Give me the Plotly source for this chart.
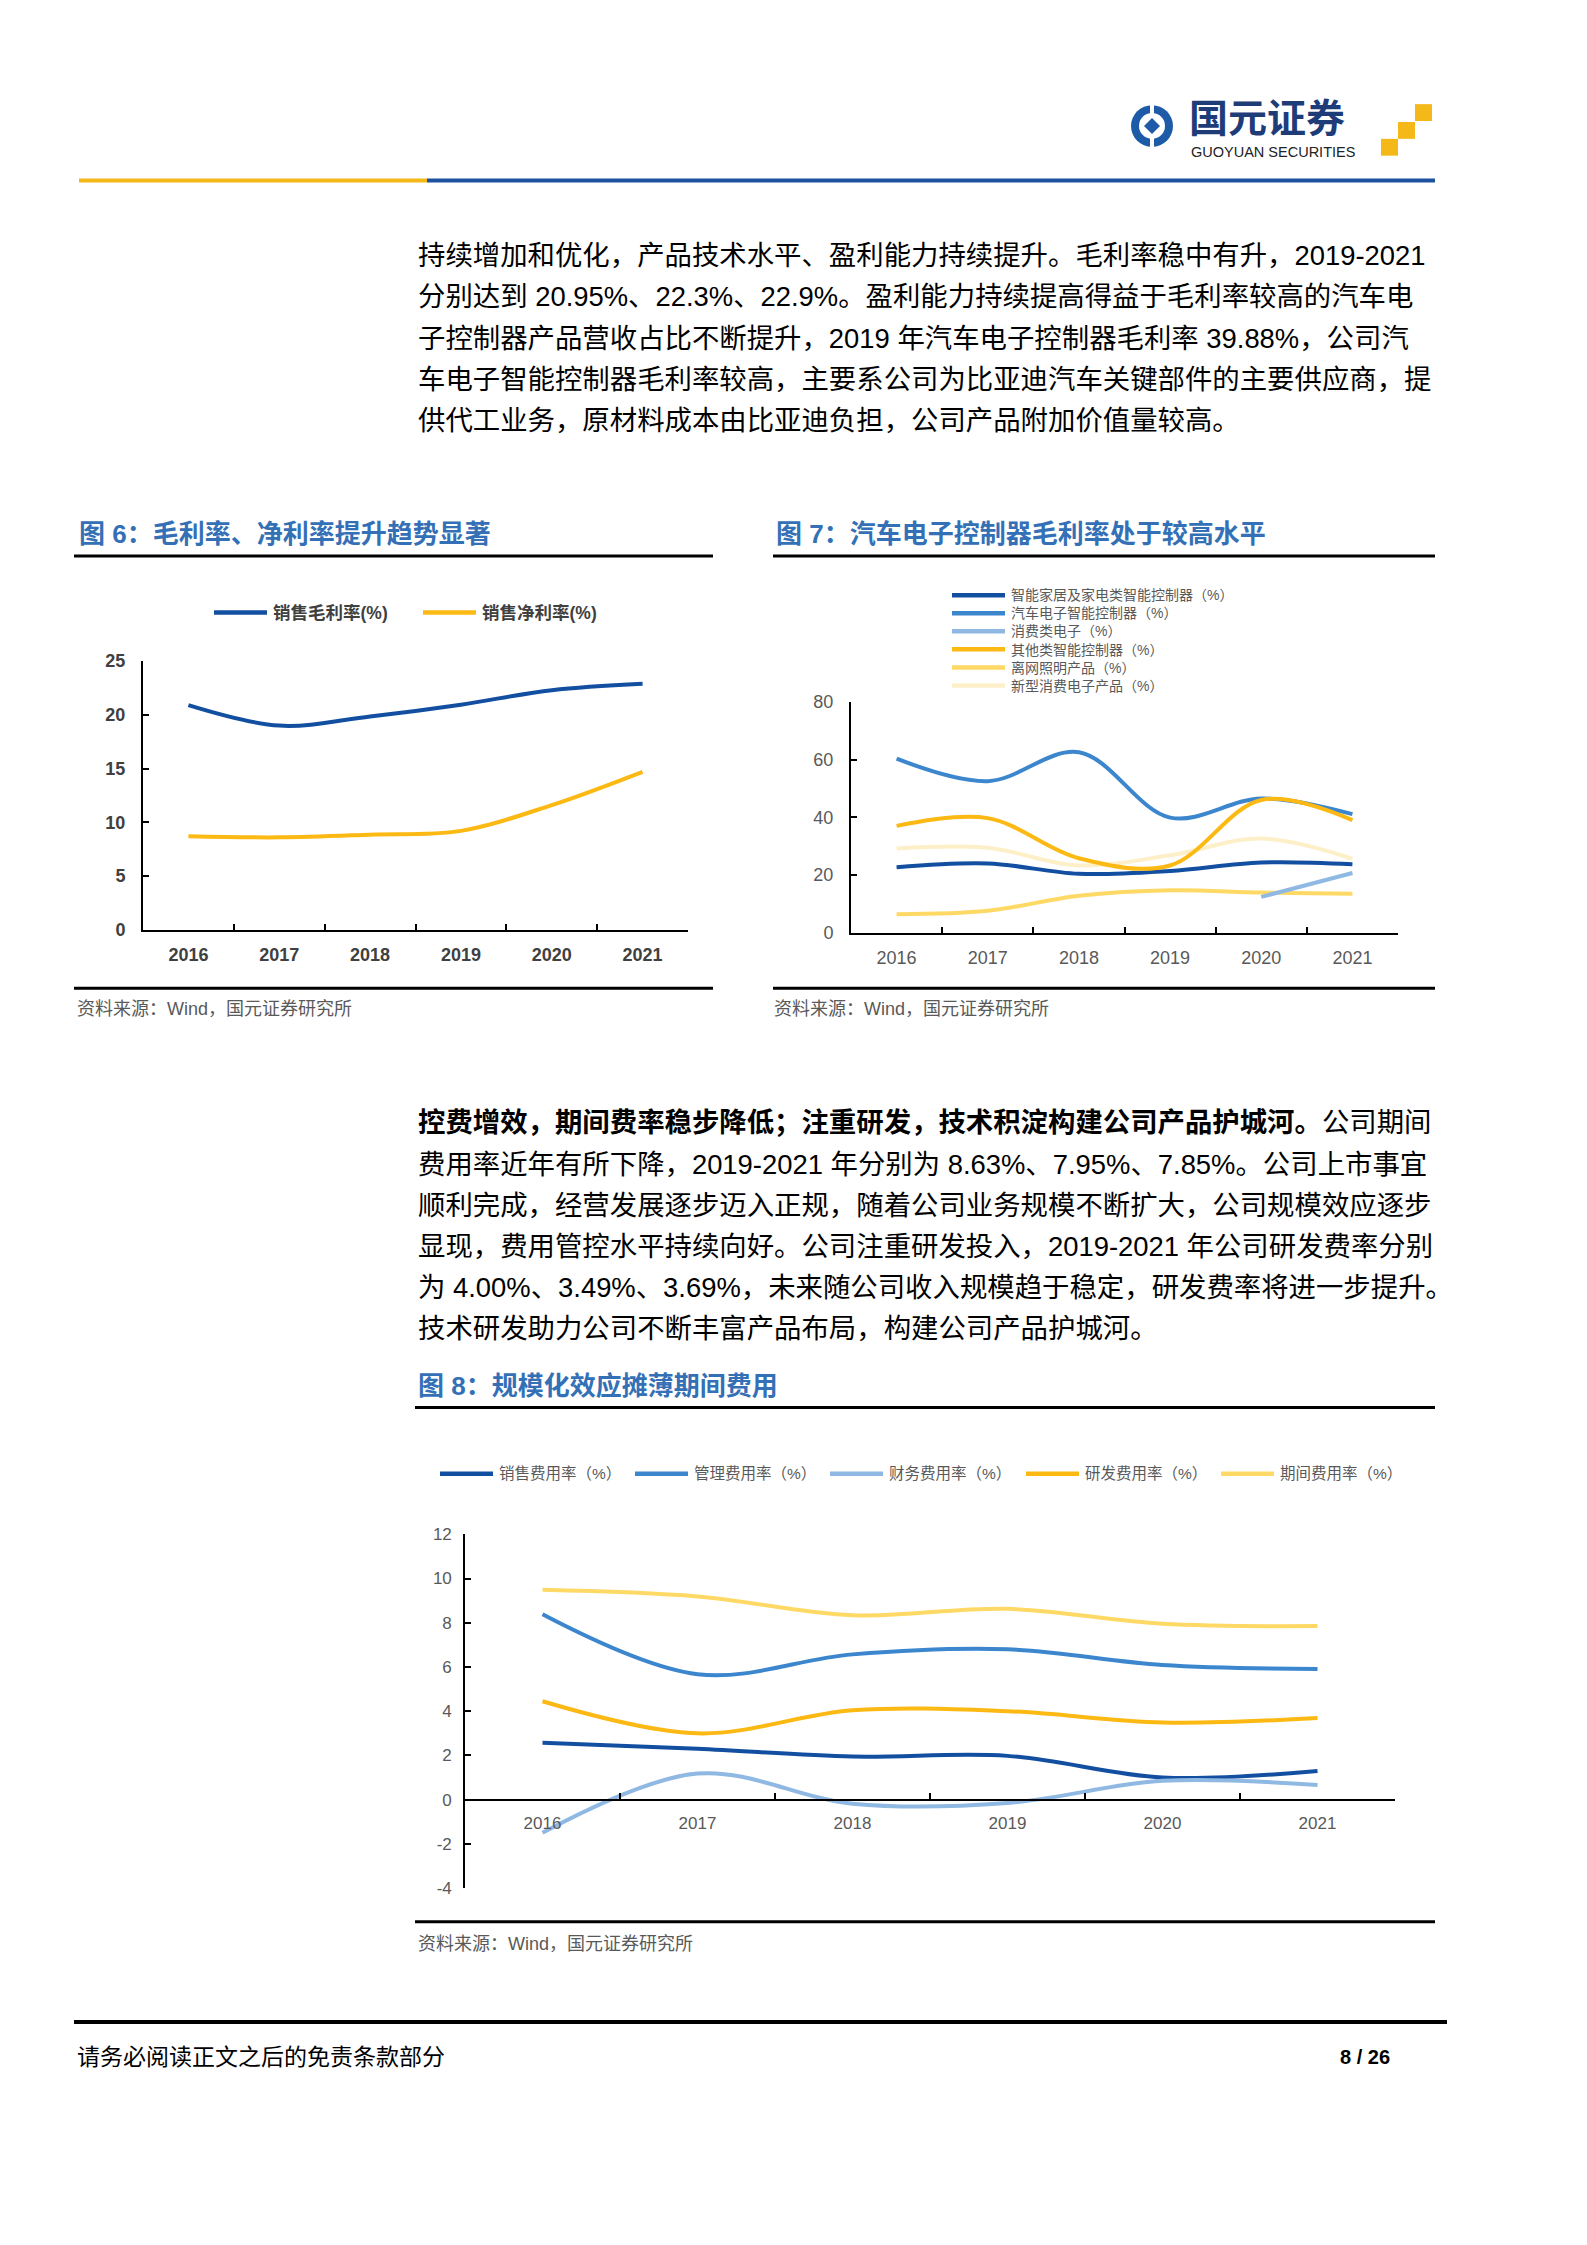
import plotly.graph_objects as go

W, H = 1587, 2245
def px(x): return x / W
def py(y): return 1 - y / H

CJK = "Liberation Sans, Noto Sans CJK SC, sans-serif"
NUM = "Liberation Sans, Arial, sans-serif"
NARROW = "Liberation Sans Narrow, Liberation Sans, Arial, sans-serif"

# ---------------- data ----------------
years = ["2016", "2017", "2018", "2019", "2020", "2021"]

# Fig 6
gross_margin = [20.9, 19.0, 19.85, 20.95, 22.3, 22.9]
net_margin = [8.7, 8.6, 8.85, 9.2, 11.6, 14.7]
fig6_names = ["销售毛利率(%)", "销售净利率(%)"]

# Fig 7
smart_home = [22.7, 24.0, 20.4, 21.4, 24.3, 23.7]
auto_elec = [60.3, 52.5, 62.5, 39.88, 46.5, 41.1]
consumer = [None, None, None, None, 12.4, 20.7]
other_ctrl = [37.0, 39.7, 25.8, 23.3, 46.0, 39.0]
offgrid = [6.4, 7.6, 12.8, 14.7, 13.9, 13.5]
new_consumer = [29.2, 29.4, 23.3, 26.8, 32.6, 25.6]
fig7_names = ["智能家居及家电类智能控制器（%）", "汽车电子智能控制器（%）", "消费类电子（%）",
              "其他类智能控制器（%）", "离网照明产品（%）", "新型消费电子产品（%）"]

# Fig 8
sales_exp = [2.57, 2.3, 1.95, 1.98, 1.0, 1.3]
admin_exp = [8.38, 5.67, 6.57, 6.8, 6.09, 5.91]
fin_exp = [-1.5, 1.18, -0.18, -0.15, 0.85, 0.66]
rd_exp = [4.45, 3.0, 4.04, 4.00, 3.49, 3.69]
period_exp = [9.49, 9.19, 8.34, 8.63, 7.95, 7.85]
fig8_names = ["销售费用率（%）", "管理费用率（%）", "财务费用率（%）", "研发费用率（%）", "期间费用率（%）"]
fig8_yticks = [-4, -2, 0, 2, 4, 6, 8, 10, 12]

DARK_BLUE = "#134FA0"
MID_BLUE = "#3C86CE"
LIGHT_BLUE = "#8FB8E3"
ORANGE = "#FCB813"
LIGHT_YEL = "#FFD966"
CREAM = "#FDEFC8"
TITLE_BLUE = "#3470B6"

fig = go.Figure()

def add_line(x, y, color, name, xa, ya, width=4):
    fig.add_trace(go.Scatter(x=x, y=y, mode="lines", name=name,
                             line=dict(color=color, width=width, shape="spline", smoothing=1.0),
                             xaxis=xa, yaxis=ya, showlegend=False, connectgaps=False,
                             hoverinfo="skip"))

# Fig 6 traces
fig6_colors = [DARK_BLUE, ORANGE]
for vals, c, n in zip([gross_margin, net_margin], fig6_colors, fig6_names):
    add_line(years, vals, c, n, "x", "y")

# Fig 7 traces
fig7_colors = [DARK_BLUE, MID_BLUE, LIGHT_BLUE, ORANGE, LIGHT_YEL, CREAM]
fig7_series = [smart_home, auto_elec, consumer, other_ctrl, offgrid, new_consumer]
draw_order7 = [5, 4, 0, 1, 3, 2]
for i in draw_order7:
    add_line(years, fig7_series[i], fig7_colors[i], fig7_names[i], "x2", "y2")

# Fig 8 traces
fig8_colors = [DARK_BLUE, MID_BLUE, LIGHT_BLUE, ORANGE, LIGHT_YEL]
fig8_series = [sales_exp, admin_exp, fin_exp, rd_exp, period_exp]
for vals, c, n in zip(fig8_series, fig8_colors, fig8_names):
    add_line(years, vals, c, n, "x3", "y3")

# ---------------- axes ----------------
def xcommon(lw, font):
    return dict(type="category", range=[-0.5, len(years) - 0.5], tickson="boundaries",
                ticks="inside", ticklen=6, tickwidth=lw,
                tickcolor="black", showline=True, linecolor="black", linewidth=lw,
                showgrid=False, zeroline=False, tickfont=font, fixedrange=True)

def ycommon(lw, font, rng, dt):
    return dict(range=rng, dtick=dt, ticks="inside", ticklen=6, tickwidth=lw, tickcolor="black",
                showline=True, linecolor="black", linewidth=lw, showgrid=False, zeroline=False,
                tickfont=font, fixedrange=True)

f6font = dict(family=NUM, size=18, color="#404040", weight="bold")
f7font = dict(family=NUM, size=18, color="#595959")
f8font = dict(family=NARROW, size=17, color="#595959")

y8_dom = [py(1895), py(1538)]
y8_rng = [fig8_yticks[0], fig8_yticks[-1]]
x8_pos = y8_dom[0] + (0 - y8_rng[0]) / (y8_rng[1] - y8_rng[0]) * (y8_dom[1] - y8_dom[0])

y3 = ycommon(1.6, f8font, y8_rng, 2)
y3.update(tickmode="array", tickvals=fig8_yticks, ticktext=[str(v) for v in fig8_yticks])

fig.update_layout(
    width=W, height=H, margin=dict(l=0, r=0, t=0, b=0), autosize=False,
    paper_bgcolor="white", plot_bgcolor="rgba(0,0,0,0)", showlegend=False,
    font=dict(family=CJK, color="black"),
    xaxis=dict(domain=[px(143), px(688)], anchor="y", ticklabelstandoff=8, **xcommon(2, f6font)),
    yaxis=dict(domain=[py(928), py(657)], anchor="x", ticklabelstandoff=12, **ycommon(2, f6font, [0, 25], 5)),
    xaxis2=dict(domain=[px(851), px(1398)], anchor="y2", ticklabelstandoff=8, **xcommon(2, f7font)),
    yaxis2=dict(domain=[py(931), py(698)], anchor="x2", ticklabelstandoff=12, **ycommon(2, f7font, [0, 80], 20)),
    xaxis3=dict(domain=[px(465), px(1395)], anchor="free", position=x8_pos, ticklabelstandoff=8,
                **xcommon(1.6, f8font)),
    yaxis3=dict(domain=y8_dom, anchor="x3", ticklabelstandoff=8, **y3),
)

shapes = []
annots = []

def rect(x0, y0, x1, y1, color):
    shapes.append(dict(type="rect", xref="paper", yref="paper", x0=px(x0), x1=px(x1),
                       y0=py(y1), y1=py(y0), fillcolor=color, line=dict(width=0), layer="above"))

def hline(x0, x1, y, color, width):
    shapes.append(dict(type="line", xref="paper", yref="paper", x0=px(x0), x1=px(x1),
                       y0=py(y), y1=py(y), line=dict(color=color, width=width), layer="above"))

def text(x, y, s, size, color="black", family=CJK, anchor="left", weight=None, yanchor="middle"):
    f = dict(family=family, size=size, color=color)
    if weight:
        f["weight"] = weight
    annots.append(dict(x=px(x), y=py(y), xref="paper", yref="paper", text=s, showarrow=False,
                       xanchor=anchor, yanchor=yanchor, font=f, align="left", borderpad=0))

# ---------------- header ----------------
rect(79, 170, 427, 174, "#F5B819")
rect(427, 170, 1435, 174, "#1C52A0")
cx, cy, r = 1152, 117, 21
shapes.append(dict(type="circle", xref="paper", yref="paper", x0=px(cx - r), x1=px(cx + r),
                   y0=py(cy + r), y1=py(cy - r), fillcolor="#1D5BA8", line=dict(width=0)))
r2 = 13
shapes.append(dict(type="circle", xref="paper", yref="paper", x0=px(cx - r2), x1=px(cx + r2),
                   y0=py(cy + r2), y1=py(cy - r2), fillcolor="white", line=dict(width=0)))
d = 8
shapes.append(dict(type="path", xref="paper", yref="paper",
                   path=f"M {px(cx)},{py(cy-d)} L {px(cx+d)},{py(cy)} L {px(cx)},{py(cy+d)} L {px(cx-d)},{py(cy)} Z",
                   fillcolor="#1D5BA8", line=dict(width=0)))
rect(cx - 2, cy - r - 1, cx + 2, cy - r2 + 1, "white")
rect(cx - 2, cy + r2 - 1, cx + 2, cy + r + 1, "white")
for (x0, y0) in [(1415, 95), (1398, 113), (1381, 130)]:
    rect(x0, y0, x0 + 17, y0 + 17, "#F5B819")
text(1188, 109, "<b>国元证券</b>", 39, "#1D3C78")
text(1190, 143, "GUOYUAN SECURITIES", 14.5, "#222222", family=NUM)

# ---------------- paragraph 1 ----------------
para1 = [
    "持续增加和优化，产品技术水平、盈利能力持续提升。毛利率稳中有升，2019-2021",
    "分别达到 20.95%、22.3%、22.9%。盈利能力持续提高得益于毛利率较高的汽车电",
    "子控制器产品营收占比不断提升，2019 年汽车电子控制器毛利率 39.88%，公司汽",
    "车电子智能控制器毛利率较高，主要系公司为比亚迪汽车关键部件的主要供应商，提",
    "供代工业务，原材料成本由比亚迪负担，公司产品附加价值量较高。",
]
for i, s in enumerate(para1):
    text(417, 248 + i * 41.5, s, 27.4)

# ---------------- figure titles ----------------
text(78, 529, "<b>图 6：毛利率、净利率提升趋势显著</b>", 26, TITLE_BLUE)
text(775, 529, "<b>图 7：汽车电子控制器毛利率处于较高水平</b>", 26, TITLE_BLUE)
hline(74, 713, 551, "black", 3)
hline(773, 1435, 551, "black", 3)
hline(74, 713, 987, "black", 3)
hline(773, 1435, 987, "black", 3)
text(76, 1008, "资料来源：Wind，国元证券研究所", 18, "#595959")
text(773, 1008, "资料来源：Wind，国元证券研究所", 18, "#595959")

# Fig 6 legend
leg6 = [(214, fig6_names[0], fig6_colors[0]), (423, fig6_names[1], fig6_colors[1])]
for x0, n, c in leg6:
    hline(x0, x0 + 53, 608, c, 4.5)
    text(x0 + 58, 608, n, 17.5, "#404040", weight="bold")

# Fig 7 legend (one block of lines)
f7size = 14
lh = 1.3 * f7size
y_mid = 636
for i, c in enumerate(fig7_colors):
    yy = y_mid + (i - 2.5) * lh
    hline(952, 1005, yy, c, 4.5)
text(1010, y_mid, "<br>".join(fig7_names), f7size, "#595959")

# ---------------- paragraph 2 ----------------
para2 = [
    "<b>控费增效，期间费率稳步降低；注重研发，技术积淀构建公司产品护城河。</b>公司期间",
    "费用率近年有所下降，2019-2021 年分别为 8.63%、7.95%、7.85%。公司上市事宜",
    "顺利完成，经营发展逐步迈入正规，随着公司业务规模不断扩大，公司规模效应逐步",
    "显现，费用管控水平持续向好。公司注重研发投入，2019-2021 年公司研发费率分别",
    "为 4.00%、3.49%、3.69%，未来随公司收入规模趋于稳定，研发费率将进一步提升。",
    "技术研发助力公司不断丰富产品布局，构建公司产品护城河。",
]
for i, s in enumerate(para2):
    text(417, 1123 + i * 41.5, s, 27.4)

text(417, 1388, "<b>图 8：规模化效应摊薄期间费用</b>", 26, TITLE_BLUE)
hline(415, 1435, 1410, "black", 3)

# Fig 8 legend
leg8_x = [440, 635, 830, 1026, 1221]
for x0, n, c in zip(leg8_x, fig8_names, fig8_colors):
    hline(x0, x0 + 53, 1477, c, 4.5)
    text(x0 + 58, 1477, n, 15.5, "#595959")

hline(415, 1435, 1929, "black", 3)
text(417, 1951, "资料来源：Wind，国元证券研究所", 18, "#595959")

# ---------------- footer ----------------
hline(74, 1447, 2030, "black", 4)
text(76, 2065, "请务必阅读正文之后的免责条款部分", 23, "black")
text(1391, 2065, "<b>8 / 26</b>", 20, "black", family=NUM, anchor="right")

fig.update_layout(shapes=shapes, annotations=annots)

fig.write_html("out.html", config={"displayModeBar": False},
               post_script="document.body.style.margin='0';")
